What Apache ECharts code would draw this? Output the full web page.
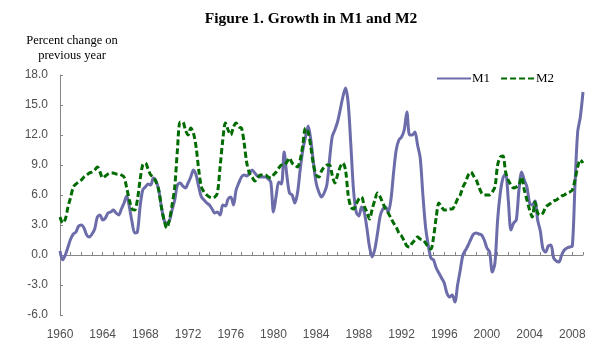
<!DOCTYPE html>
<html>
<head>
<meta charset="utf-8">
<script src="https://cdn.jsdelivr.net/npm/echarts@6/dist/echarts.min.js"></script>
<style>
html,body{margin:0;padding:0;background:#fff;}
#chart{width:600px;height:357px;}
</style>
</head>
<body>
<div id="chart"></div>
<script>
// Quarterly observations, 1960Q1 .. 2009Q1
const startYear = 1960;
const endYear = 2009;
const tickLabels = ['1960','1964','1968','1972','1976','1980','1984','1988','1992','1996','2000','2004','2008'];
const yTicks = ['-6.0','-3.0','0.0','3.0','6.0','9.0','12.0','15.0','18.0'];

const m1 = [
  0.4, -0.5, 0.0, 0.8,
  1.6, 2.1, 2.3, 2.9,
  3.0, 2.7, 2.0, 1.8,
  2.1, 2.6, 3.8, 4.0,
  3.5, 3.7, 4.2, 4.3,
  4.5, 4.2, 4.0, 4.6,
  5.2, 5.9, 4.8, 3.3,
  2.2, 2.3, 4.8, 6.5,
  6.8, 7.1, 7.0, 7.7,
  7.4, 6.5, 4.8, 3.5,
  3.2, 3.4, 4.5, 5.5,
  7.0, 7.2, 6.9, 6.7,
  7.2, 7.8, 8.5, 8.0,
  6.8, 5.8, 5.5, 5.2,
  5.0, 4.6, 4.2, 4.3,
  4.0, 5.0, 4.9, 5.6,
  5.8, 5.0, 6.5, 7.2,
  7.8, 8.0, 7.9, 8.2,
  8.5, 8.2, 7.9, 7.8,
  7.8, 7.8, 7.6, 7.3,
  4.3, 5.9, 7.3, 7.1,
  10.3, 8.0, 6.2, 6.0,
  5.2, 6.2, 8.5, 10.5,
  11.8, 12.9, 11.5, 9.2,
  7.2, 6.3, 5.8, 6.2,
  7.0, 9.5, 11.8, 12.5,
  13.3, 14.5, 15.8, 16.7,
  15.2, 11.0, 6.5, 4.3,
  3.9, 4.8, 4.3, 2.7,
  0.8, -0.2, 0.6, 2.2,
  3.9, 4.6, 4.8, 4.3,
  5.5, 8.2, 10.5, 11.5,
  11.8, 12.5, 14.3, 12.0,
  12.0, 12.3, 11.0, 9.7,
  6.0, 2.8, 1.0, -0.3,
  -0.5, -1.3, -1.8, -2.3,
  -2.8, -3.8, -4.2, -4.0,
  -4.7, -3.0, -1.5, 0.0,
  0.5, 1.0, 1.6, 2.1,
  2.2, 2.1, 2.0, 1.5,
  0.7, 0.3, -1.7, -0.8,
  3.5, 6.2, 7.7, 8.1,
  5.5, 2.5, 3.2, 3.5,
  6.5, 8.3, 7.5, 6.8,
  5.2, 5.0, 5.4, 3.5,
  2.4, 0.6, 0.3, 0.9,
  1.0, -0.3, -0.6, -0.7,
  0.0, 0.5, 0.7, 0.8,
  0.9, 7.0, 12.3, 13.8,
  16.3
];

const m2 = [
  3.8, 3.2, 3.6, 4.8,
  5.8, 6.8, 7.1, 7.3,
  7.5, 7.8, 8.0, 8.2,
  8.3, 8.5, 8.8, 8.3,
  7.7, 7.9, 8.1, 8.2,
  8.2, 8.1, 8.1, 8.0,
  7.8, 6.7, 5.5, 4.6,
  4.5, 5.5, 7.5, 9.0,
  9.2, 8.6, 8.0, 7.8,
  7.3, 6.5, 4.8, 3.5,
  2.7, 3.5, 5.0, 6.8,
  10.5, 13.3, 13.3, 12.5,
  12.0, 12.7, 12.2, 10.8,
  8.5, 6.8, 6.3, 6.0,
  5.8, 5.7, 5.8, 6.2,
  8.8, 11.5, 13.2, 12.5,
  12.0, 12.8, 13.2, 12.8,
  12.7, 11.2, 9.2, 8.2,
  7.8, 7.4, 7.7, 8.0,
  8.0, 8.0, 7.8, 7.7,
  8.0, 8.3, 8.7, 9.0,
  9.0, 9.3, 9.7, 9.2,
  9.0, 8.8, 9.5, 11.0,
  12.7, 12.3, 10.8, 9.0,
  8.0, 7.8, 8.4, 8.8,
  9.0, 9.0, 8.0, 7.2,
  8.0, 8.8, 9.2, 8.5,
  6.0, 4.8, 4.6, 5.1,
  5.6, 5.8, 4.9, 4.3,
  3.6, 4.6, 5.5, 6.2,
  5.8, 5.2, 4.6, 4.2,
  3.7, 3.2, 2.8, 2.2,
  1.9, 1.4, 0.9, 0.8,
  1.2, 1.5, 1.8, 1.6,
  1.5, 1.2, 0.8, 0.6,
  1.8, 3.8, 5.2, 4.8,
  4.5, 4.5, 4.6, 4.6,
  5.0, 5.6, 6.0, 6.8,
  7.3, 8.0, 8.3, 7.9,
  7.5, 6.8, 6.2, 6.0,
  6.0, 6.0, 6.3, 6.8,
  9.0, 9.8, 9.9, 8.3,
  7.5, 7.0, 6.7, 6.8,
  7.0, 7.8, 6.5, 5.5,
  4.5, 3.8, 5.3, 4.2,
  4.0, 4.2, 4.8, 5.0,
  5.2, 5.4, 5.5, 5.7,
  5.9, 6.0, 6.2, 6.3,
  6.5, 7.5, 8.8, 9.5,
  9.2
];

// quarter categories
const quarters = [];
for (let y = startYear; y <= endYear; y++) {
  for (let q = 1; q <= 4; q++) {
    if (quarters.length < m1.length) quarters.push(y + 'Q' + q);
  }
}

const chart = echarts.init(document.getElementById('chart'), null, {renderer: 'canvas'});
const serif = '"Liberation Serif", "Times New Roman", serif';
const sans = '"Liberation Sans", Arial, sans-serif';

chart.setOption({
  animation: false,
  backgroundColor: '#ffffff',
  title: [
    {
      text: 'Figure 1. Growth in M1 and M2',
      left: 311,
      top: 11,
      padding: 0,
      textAlign: 'center',
      textStyle: {fontFamily: serif, fontWeight: 'bold', fontSize: 15.5, color: '#000'}
    },
    {
      text: 'Percent change on\nprevious year',
      left: 72,
      top: 33,
      padding: 0,
      textAlign: 'center',
      textStyle: {fontFamily: serif, fontWeight: 'normal', fontSize: 12.5, color: '#000', lineHeight: 15}
    }
  ],
  legend: {
    left: 431,
    top: 67,
    itemWidth: 34,
    itemHeight: 10,
    itemGap: 10,
    itemStyle: {opacity: 0},
    textStyle: {fontFamily: serif, fontSize: 13, color: '#000', padding: [0, 0, 0, -4]},
    data: ['M1', 'M2']
  },
  grid: {left: 60, right: 17, top: 75, bottom: 42, containLabel: false},
  xAxis: {
    type: 'category',
    data: quarters,
    boundaryGap: false,
    axisLine: {lineStyle: {color: '#868686', width: 1}},
    axisTick: {show: true, inside: true, length: 3, interval: 3, lineStyle: {color: '#868686'}},
    axisLabel: {
      interval: 15,
      margin: 14,
      fontFamily: sans,
      fontSize: 12,
      color: '#505050',
      formatter: function (v, i) { const k = i / 16; return Number.isInteger(k) && tickLabels[k] ? tickLabels[k] : ''; }
    },
    splitLine: {show: false}
  },
  yAxis: {
    type: 'value',
    min: -6,
    max: 18,
    interval: 3,
    axisLine: {show: true, lineStyle: {color: '#868686', width: 1}},
    axisTick: {show: true, inside: true, length: 3, lineStyle: {color: '#868686'}},
    axisLabel: {
      margin: 12,
      fontFamily: sans,
      fontSize: 12,
      color: '#505050',
      formatter: function (v) { return yTicks[Math.round((v + 6) / 3)]; }
    },
    splitLine: {show: false}
  },
  series: [
    {
      name: 'M1',
      type: 'line',
      data: m1,
      symbol: 'none',
      smooth: 0.3,
      lineStyle: {color: '#6c6caa', width: 3},
      itemStyle: {color: '#6c6caa'},
      z: 2
    },
    {
      name: 'M2',
      type: 'line',
      data: m2,
      symbol: 'none',
      smooth: 0.3,
      lineStyle: {color: '#006b00', width: 3, type: [6, 3]},
      itemStyle: {color: '#006b00'},
      z: 3
    }
  ]
});
</script>
</body>
</html>
